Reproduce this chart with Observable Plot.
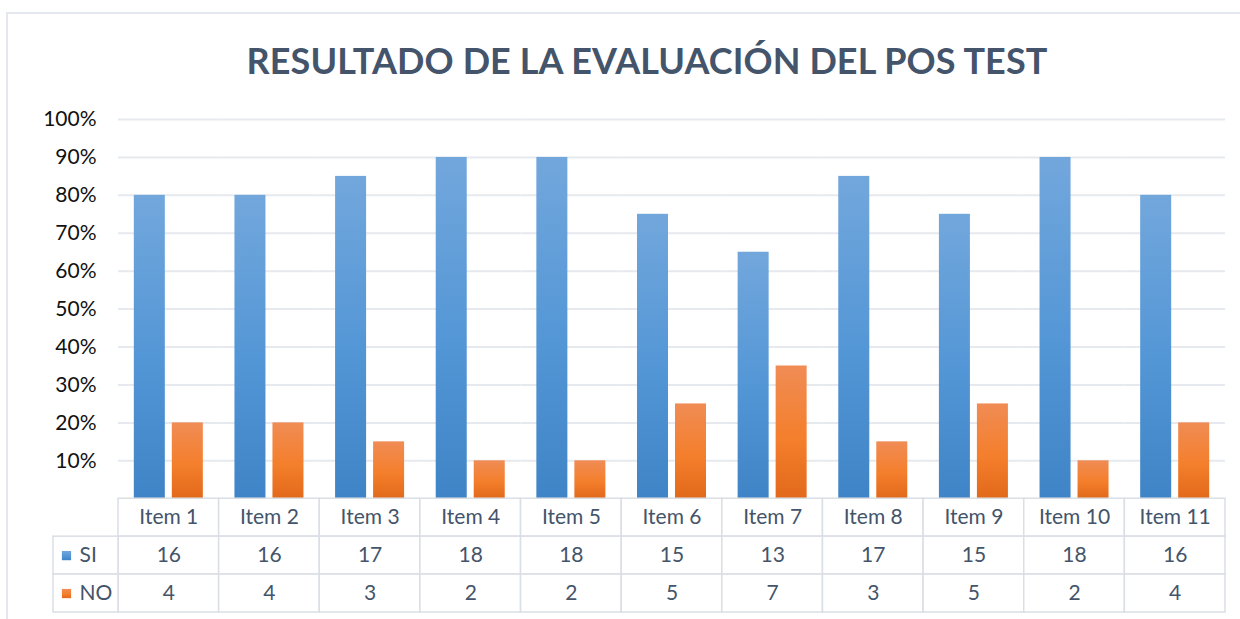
<!DOCTYPE html>
<html>
<head>
<meta charset="utf-8">
<script src="https://cdn.jsdelivr.net/npm/d3@7"></script>
<script src="https://cdn.jsdelivr.net/npm/@observablehq/plot@0.6"></script>
<style>
  html, body { margin: 0; padding: 0; background: #fff; }
  #wrap { position: relative; width: 1240px; height: 619px; overflow: hidden; font-family: Lato, "Open Sans", sans-serif; }
  #border { position: absolute; left: 6px; top: 12px; width: 1250px; height: 640px; border: 2px solid #e4e7ed; box-sizing: border-box; }
  #title { position: absolute; left: 0; top: 0; width: 1240px; height: 100px; text-align: center; padding-left: 54px; box-sizing: border-box;
           font-size: 36px; font-weight: 700; color: #44546a; line-height: 120px; letter-spacing: 0.1px; }
  #chart { position: absolute; left: 0; top: 100px; }
</style>
</head>
<body>
<div id="wrap">
  <div id="border"></div>
  <div id="title">RESULTADO DE LA EVALUACIÓN DEL POS TEST</div>
  <div id="chart"></div>
</div>
<script>
// ---- data ----
const items = ["Item 1","Item 2","Item 3","Item 4","Item 5","Item 6","Item 7","Item 8","Item 9","Item 10","Item 11"];
const series = ["SI","NO"];
const siCount = [16,16,17,18,18,15,13,17,15,18,16];
const noCount = [4,4,3,2,2,5,7,3,5,2,4];
const siPct = [0.80,0.80,0.85,0.90,0.90,0.75,0.65,0.85,0.75,0.90,0.80];
const noPct = [0.20,0.20,0.15,0.10,0.10,0.25,0.35,0.15,0.25,0.10,0.20];
const yTicks = [0.1,0.2,0.3,0.4,0.5,0.6,0.7,0.8,0.9,1.0];

const bars = [];
items.forEach((it, i) => {
  bars.push({item: it, series: "SI", pct: siPct[i], count: siCount[i]});
  bars.push({item: it, series: "NO", pct: noPct[i], count: noCount[i]});
});
const seriesFill = {SI: "url(#gBlue)", NO: "url(#gOrange)"};
const legendRows = [
  {item: "Item 1", series: "SI", y1: -0.1, y2: -0.2},
  {item: "Item 1", series: "NO", y1: -0.2, y2: -0.3}
];

const W = 1240, H = 519, ML = 118, MR = 15;
const facetW = (W - ML - MR) / items.length;
const legendW = 65;
const gridColor = "#e6e9ee";
const tableColor = "#dadee5";
const textColor = "#44546a";
const fs = 21;

const defs = () => {
  const d = d3.create("svg:defs");
  const b = d.append("linearGradient").attr("id", "gBlue").attr("x1", 0).attr("y1", 0).attr("x2", 0).attr("y2", 1);
  b.append("stop").attr("offset", "0%").attr("stop-color", "#72a7dc");
  b.append("stop").attr("offset", "55%").attr("stop-color", "#5396d6");
  b.append("stop").attr("offset", "100%").attr("stop-color", "#3f84c6");
  const o = d.append("linearGradient").attr("id", "gOrange").attr("x1", 0).attr("y1", 0).attr("x2", 0).attr("y2", 1);
  o.append("stop").attr("offset", "0%").attr("stop-color", "#f08c55");
  o.append("stop").attr("offset", "55%").attr("stop-color", "#f47f2c");
  o.append("stop").attr("offset", "100%").attr("stop-color", "#e2691b");
  return d.node();
};

const cellRow = (y1, y2) => Plot.barY(items, {fx: d => d, y1: () => y1, y2: () => y2, fill: "white", stroke: tableColor, strokeWidth: 1.5});

const chart = Plot.plot({
  width: W,
  height: H,
  marginLeft: ML,
  marginRight: MR,
  marginTop: 19,
  marginBottom: 7,
  style: {fontFamily: "Lato, 'Open Sans', sans-serif", fontSize: fs + "px", background: "transparent"},
  fx: {domain: items, padding: 0, round: false, axis: null},
  x: {domain: series, paddingInner: 0.184, paddingOuter: 0.416, round: false, axis: null},
  y: {domain: [-0.3, 1.0], axis: null},
  marks: [
    defs,
    Plot.gridY(yTicks, {stroke: gridColor, strokeOpacity: 1, strokeWidth: 2}),
    Plot.axisY(yTicks, {tickFormat: d3.format(".0%"), tickSize: 0, tickPadding: 22, fontSize: fs, fill: "#111", facetAnchor: "left"}),
    Plot.barY(bars, {fx: "item", x: "series", y: "pct", fill: d => seriesFill[d.series], insetLeft: 0, insetRight: 0}),
    cellRow(0, -0.1),
    cellRow(-0.1, -0.2),
    cellRow(-0.2, -0.3),
    Plot.text(items, {fx: d => d, y: () => -0.05, text: d => d, fill: textColor, fontSize: fs}),
    Plot.text(items.map((it, i) => ({item: it, v: siCount[i]})), {fx: "item", y: () => -0.15, text: "v", fill: textColor, fontSize: fs}),
    Plot.text(items.map((it, i) => ({item: it, v: noCount[i]})), {fx: "item", y: () => -0.25, text: "v", fill: textColor, fontSize: fs}),
    // legend column of the data table
    Plot.barY(legendRows, {fx: "item", y1: "y1", y2: "y2", fill: "white", stroke: tableColor, strokeWidth: 1.5,
                           insetRight: facetW - legendW, dx: -legendW}),
    Plot.dot(legendRows, {fx: "item", y: d => (d.y1 + d.y2) / 2, frameAnchor: "left", dx: -52, symbol: "square", r: 5.2,
                          fill: d => seriesFill[d.series]}),
    Plot.text(legendRows, {fx: "item", y: d => (d.y1 + d.y2) / 2, frameAnchor: "left", dx: -39, text: "series", textAnchor: "start",
                           fill: textColor, fontSize: fs})
  ]
});
document.getElementById("chart").appendChild(chart);
</script>
</body>
</html>
